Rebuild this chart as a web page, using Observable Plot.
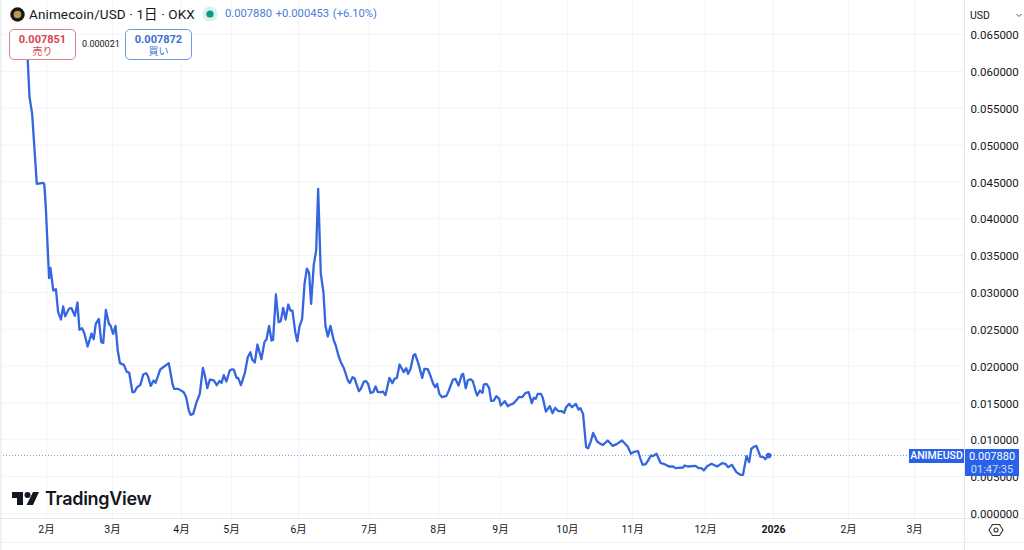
<!DOCTYPE html>
<html lang="ja">
<head>
<meta charset="utf-8">
<script src="https://cdn.jsdelivr.net/npm/d3@7"></script>
<script src="https://cdn.jsdelivr.net/npm/@observablehq/plot@0.6"></script>
<style>
html,body{margin:0;padding:0;background:#fff;width:1024px;height:550px;overflow:hidden;font-family:Roboto,"Noto Sans CJK JP",sans-serif;color:#131722}
#chart{position:absolute;left:0;top:0}
.o{position:absolute;white-space:nowrap}
.badge{box-sizing:border-box;width:67px;height:31px;top:29px;background:#fff;border-radius:5px;border:1px solid;text-align:center;font-size:10px;line-height:12px;padding-top:3px}
.badge b{display:block;font-size:11px;font-weight:700;line-height:13px}
</style>
</head>
<body>
<div id="chart"></div>
<div class="o" style="left:0;top:0;width:2px;height:550px;background:#f0f1f3"></div>
<div class="o" style="left:964px;top:0;width:1px;height:550px;background:#e6e8ec"></div>
<div class="o" style="left:0;top:518px;width:1024px;height:1px;background:#e6e8ec"></div>
<div class="o" style="left:0;top:542px;width:1024px;height:1px;background:#eff0f2"></div>

<svg class="o" style="left:10px;top:7px" width="15" height="15"><circle cx="7.5" cy="7.5" r="7.2" fill="#1b1712"/><circle cx="7.5" cy="7.5" r="3.8" fill="#b79a5b"/></svg>
<div class="o" style="left:29px;top:6px;font-size:13.5px;line-height:16px;letter-spacing:.12px">Animecoin/USD · 1日 · OKX</div>
<svg class="o" style="left:202px;top:6px" width="16" height="16"><circle cx="8" cy="8" r="7.5" fill="#d9f0ec"/><circle cx="8" cy="8" r="3.6" fill="#089981"/></svg>
<div class="o" style="left:225px;top:7px;font-size:11.2px;line-height:14px;color:#4a7bd8;word-spacing:1px">0.007880 +0.000453 (+6.10%)</div>
<div class="o badge" style="left:9px;border-color:#e08088;color:#d9434e"><b>0.007851</b>売り</div>
<div class="o" style="left:82px;top:38px;font-size:9px;line-height:12px">0.000021</div>
<div class="o badge" style="left:125px;border-color:#6f9ae0;color:#3c6fd0"><b>0.007872</b>買い</div>
<div class="o" style="left:970px;top:9px;font-size:10.5px;line-height:13px">USD</div>
<svg class="o" style="left:1015px;top:13px" width="8" height="5"><path d="M1.5 1 L4 3.5 L6.5 1" fill="none" stroke="#555" stroke-width="1"/></svg>

<div class="o" style="left:909px;top:449px;width:55px;height:14px;background:#2962e8;color:#fff;font-size:10.5px;line-height:14px;text-align:center;font-weight:500">ANIMEUSD</div>
<div class="o" style="left:965px;top:449px;width:54px;height:27px;background:#2962e8;color:#fff;font-size:11px;line-height:13px;text-align:center;padding-top:1px;box-sizing:border-box">0.007880<br><span style="color:#cfdcf8">01:47:35</span></div>

<svg class="o" style="left:12px;top:491px" width="27" height="15"><path d="M0 1H11V14H5V7H0Z M21 1H27L21 14H14.5Z" fill="#131722"/><circle cx="15.5" cy="4" r="3" fill="#131722"/></svg>
<div class="o" style="left:45px;top:488px;font-size:18px;line-height:22px;font-weight:600;font-family:Inter,Roboto,sans-serif;letter-spacing:-.3px">TradingView</div>
<svg class="o" style="left:988px;top:522px" width="16" height="16"><path d="M4.5 2.5H11.5L15 8L11.5 13.5H4.5L1 8Z" fill="none" stroke="#333" stroke-width="1.1"/><circle cx="8" cy="8" r="2" fill="none" stroke="#333" stroke-width="1.1"/></svg>

<script>
const bars = [2.5,3.3,4.1,5.3,7.4,10.2,10.8,11.5,13.0,13.6,14.9,16.1,17.1,18.4,19.4,20.3,22.1,23.2,24.7,25.9,26.8,28.0,29.1,30.5,32.3,33.3,34.2,35.6,36.7,37.6,38.8,40.2,40.9,42.1,43.2,44.2,45.2,47.0,48.3,49.4,50.9,51.7,53.0,54.5,55.8,57.1,58.0,59.2,60.5,61.4,63.5,67.4,69.1,69.8,71.7,74.2,75.3,76.5,
77.3,78.5,80.0,81.5,82.9,83.8,84.9,86.1,87.9,89.2,90.5,91.4,92.4,93.6,95.1,96.2,97.0,98.2,98.9,100.2,102.0,103.3,104.5,105.3,106.5,107.7,109.5,110.9,111.8,113.0,114.1,114.8,116.1,117.3,118.3,119.4,120.5,121.7,122.7,123.6,124.9,125.8,126.8,128.0,129.1,130.2,131.2,132.1,133.3,134.4,135.3,136.5,137.7,138.6,139.7,140.9,142.4,143.3,144.5,145.6,147.1,148.8,149.7,150.9,151.8,153.8,154.7,156.1,157.1,158.0,159.1,160.3,161.4,162.4,164.0,164.7,165.9,167.7,169.0,170.0,171.1,172.3,174.2,175.3,176.2,177.3,178.6,179.4,180.9,
182.6,183.6,185.1,186.3,187.6,188.5,189.4,190.4,191.6,193.6,194.7,196.5,197.7,199.1,200.6,201.2,202.4,203.3,204.5,205.6,206.8,207.6,208.8,210.0,210.6,211.8,213.0,213.9,215.1,216.3,217.6,218.3,220.1,221.5,222.7,223.8,225.3,226.6,228.0,229.7,231.0,232.4,233.3,234.2,235.1,236.6,237.4,238.8,240.6,241.8,243.0,244.5,246.0,247.1,248.0,249.4,250.7,252.4,253.6,254.5,255.7,257.1,258.0,259.1,260.3,262.1,
263.6,264.8,266.9,269.2,271.2,273.4,276.0,277.5,278.8,280.7,281.8,282.8,284.1,285.1,286.6,287.5,289.1,290.9,293.1,294.7,296.6,297.7,301.2,301.9,303.3,306.8,308.3,309.5,310.6,312.1,314.1,316.6,318.9,320.4,321.6,323.4,325.4,327.2,328.4,330.0,331.2,332.2,333.6,334.5,336.3,337.8,338.6,339.7,340.1];

const prices = [.0635,.06146,.05649,.05423,.04473,.04486,.04473,.04156,.03193,.03333,.03026,.03044,.02732,.02632,.02809,.02677,.02781,.02786,.02682,.02863,.02492,.02514,.02438,.02266,.02442,.02365,.02573,.02641,.02324,.02315,.02763,.02573,.02551,.02438,.02546,.02211,.0204,.02017,.01922,.01913,.01646,.01646,.01714,.01746,.01886,.01904,.01859,.01732,.01804,.01773,.01954,.0204,.01759,.01691,.01691,.01646,.01578,.01397,
.01339,.01352,.0151,.01624,.01976,.01872,.01701,.01818,.01805,.01741,.018,.01773,.01877,.01791,.0194,.01958,.01949,.01841,.01841,.01741,.01909,.02121,.02189,.0209,.02049,.02293,.02094,.02329,.02361,.02546,.02347,.02356,.02972,.02596,.0261,.02791,.02632,.02836,.02754,.02754,.0246,.02338,.02537,.02641,.03116,.03324,.03261,.02845,.03374,.03569,.04405,.03252,.03003,.02551,.02402,.02546,.02347,.0228,.02144,.02053,.01963,.01805,.01769,.0185,.01836,.0166,.01692,.01791,.01796,.01759,.01637,.01646,.01723,.01646,.01646,.01655,.01606,.01841,.01769,.01827,.01841,.02022,.01918,.01972,.01895,.01963,.02144,.02162,.02031,
.0184,.01963,.01958,.01872,.01759,.01714,.01759,.01623,.01578,.01596,.01669,.01813,.01827,.01736,.01886,.01895,.017,.01804,.01822,.01795,.01669,.016,.01669,.01637,.0175,.01759,.01705,.01528,.01533,.01592,.01556,.01465,.01524,.01456,.01479,.01488,.01533,.01583,.01578,.01637,.01646,.01497,.01569,.01556,.01623,.01623,.01569,.01384,.01456,.01361,.01433,.01388,.01388,.01366,.01442,.01488,.01442,.01488,.01411,.01429,.01352,.009,.00886,.00968,.01094,.00977,
.00945,.00932,.00991,.00918,.00945,.00991,.00909,.0081,.00837,.00846,.00742,.0066,.00669,.0071,.00787,.00778,.0081,.00688,.00665,.00638,.00638,.00615,.00624,.00651,.00638,.00647,.00615,.00615,.00584,.00642,.00674,.00638,.00683,.00674,.00629,.0066,.00561,.00525,.00525,.00778,.00697,.00878,.00909,.00918,.00773,.00764,.00737,.00783,.00788];

const lastPrice = 0.00788;
const lastBar = 340.1;
const monthBars = [11.8,41.8,73.2,95.9,126.4,158.6,190,218.2,248.6,278.2,311.4,376.4,406.4];
const monthLabels = ["2月","3月","4月","5月","6月","7月","8月","9月","10月","11月","12月","2月","3月"];
const yearBars = [342.3];
const yearLabels = ["2026"];
const priceTicks = [0,.005,.01,.015,.02,.025,.03,.035,.04,.045,.05,.055,.06,.065];

const series = bars.map((b,i)=>({b,p:prices[i]}));
const gridColor = "#f3f4f7";
const font = 'Roboto,"Noto Sans CJK JP",sans-serif';

const chart = Plot.plot({
  width:1024, height:550,
  marginTop:0, marginLeft:0, marginRight:60, marginBottom:32,
  style:{background:"transparent",fontFamily:font,color:"#131722"},
  x:{type:"linear",domain:[0,430],range:[20,966]},
  y:{type:"linear",domain:[0,.065],range:[513,34]},
  marks:[
    Plot.gridX([...monthBars,...yearBars],{stroke:gridColor,strokeOpacity:1}),
    Plot.gridY(priceTicks,{stroke:gridColor,strokeOpacity:1}),
    Plot.ruleY([lastPrice],{stroke:"#7f9be0",strokeDasharray:"1 2",strokeWidth:1}),
    Plot.line(series,{x:"b",y:"p",stroke:"#3366df",strokeWidth:2.3,curve:"linear"}),
    Plot.dot([{b:lastBar,p:lastPrice}],{x:"b",y:"p",r:2.8,fill:"#3366df"}),
    Plot.axisY(priceTicks,{anchor:"right",tickSize:0,tickPadding:6,fontSize:11.5,dy:1,label:null,
      tickFormat:d=>d.toFixed(6)}),
    Plot.axisX(monthBars,{anchor:"bottom",tickSize:0,tickPadding:7,fontSize:10.5,label:null,
      tickFormat:d=>monthLabels[monthBars.indexOf(d)]}),
    Plot.axisX(yearBars,{anchor:"bottom",tickSize:0,tickPadding:7,fontSize:10.5,fontWeight:700,label:null,
      tickFormat:d=>yearLabels[yearBars.indexOf(d)]})
  ]
});
document.getElementById("chart").appendChild(chart);
</script>
</body>
</html>
